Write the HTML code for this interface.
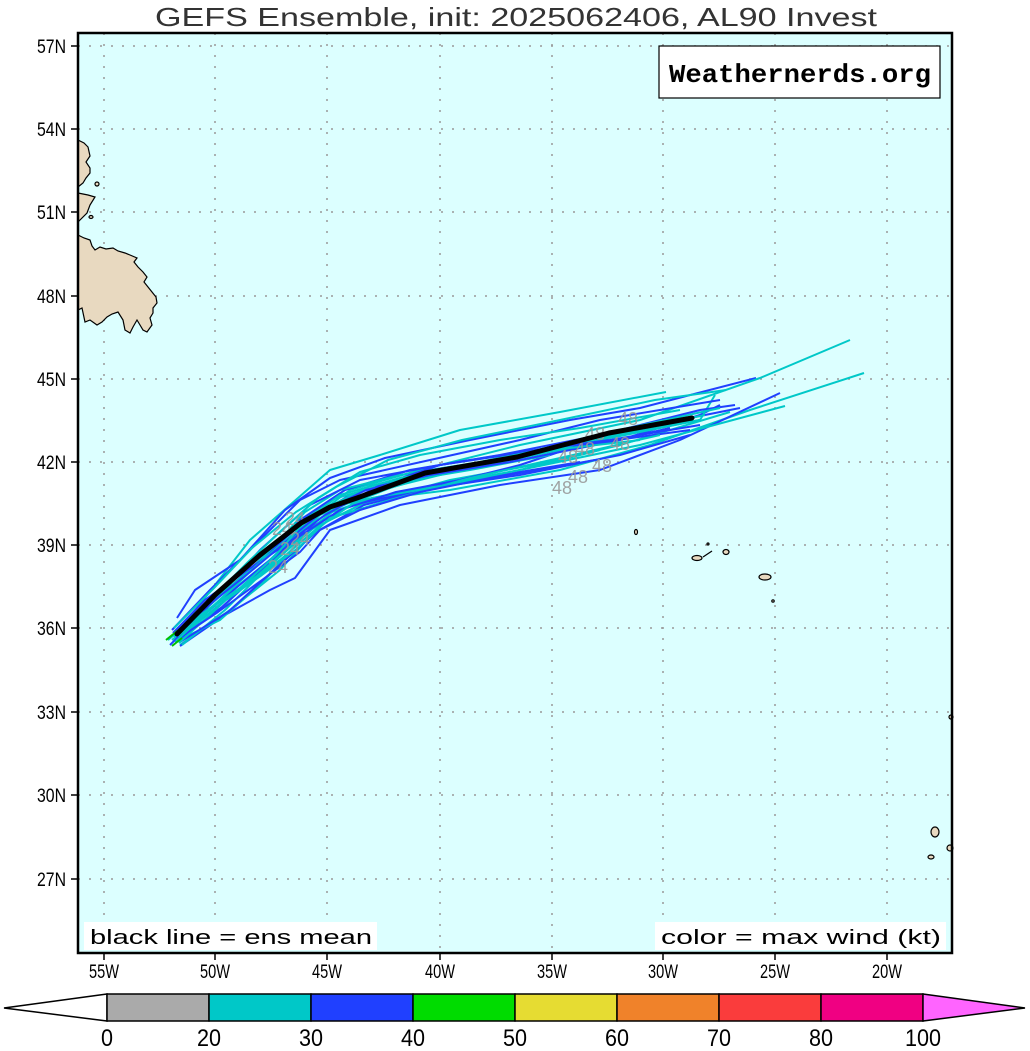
<!DOCTYPE html>
<html><head><meta charset="utf-8"><style>body{margin:0;background:#fff}svg{display:block}</style></head><body>
<svg width="1030" height="1051" viewBox="0 0 1030 1051" xmlns="http://www.w3.org/2000/svg" font-family="Liberation Sans, sans-serif">
<rect width="1030" height="1051" fill="#fff"/>
<text x="516" y="26" font-size="26" text-anchor="middle" textLength="722" lengthAdjust="spacingAndGlyphs" fill="#333">GEFS Ensemble, init: 2025062406, AL90 Invest</text>
<rect x="78" y="33" width="874" height="920" fill="#dcffff"/>
<g stroke="#999" stroke-width="1.5" stroke-dasharray="2,9">
<line x1="104" y1="33" x2="104" y2="953"/><line x1="215" y1="33" x2="215" y2="953"/><line x1="327" y1="33" x2="327" y2="953"/><line x1="440" y1="33" x2="440" y2="953"/><line x1="552" y1="33" x2="552" y2="953"/><line x1="663" y1="33" x2="663" y2="953"/><line x1="775" y1="33" x2="775" y2="953"/><line x1="887" y1="33" x2="887" y2="953"/>
<line x1="78" y1="46" x2="952" y2="46"/><line x1="78" y1="129" x2="952" y2="129"/><line x1="78" y1="212" x2="952" y2="212"/><line x1="78" y1="296" x2="952" y2="296"/><line x1="78" y1="379" x2="952" y2="379"/><line x1="78" y1="462" x2="952" y2="462"/><line x1="78" y1="545" x2="952" y2="545"/><line x1="78" y1="628" x2="952" y2="628"/><line x1="78" y1="712" x2="952" y2="712"/><line x1="78" y1="795" x2="952" y2="795"/><line x1="78" y1="879" x2="952" y2="879"/>
</g>
<g fill="#e8d9c0" stroke="#000" stroke-width="1.2">
<polygon points="78,235 84,238 90,240 92,246 95,250 100,247 106,249 113,248 118,251 125,253 130,255 137,258 134,262 138,267 143,272 147,277 144,282 148,287 152,292 156,297 157,303 153,308 153,313 150,318 152,325 147,332 143,330 140,325 137,320 133,327 130,333 125,330 123,320 118,312 112,314 107,317 102,322 97,325 90,320 85,322 82,308 78,310"/>
<polygon points="78,140 84,143 88,147 90,156 86,162 90,168 90,173 86,178 83,183 78,187"/>
<polygon points="78,193 88,195 95,197 90,205 87,213 80,220 78,222"/>
<ellipse cx="97" cy="184" rx="2" ry="2"/><ellipse cx="91" cy="217" rx="2" ry="1.5"/>
<ellipse cx="636" cy="532" rx="1.5" ry="2.5"/>
<ellipse cx="697" cy="558" rx="5" ry="2.5"/><line x1="703" y1="557" x2="712" y2="551"/><ellipse cx="726" cy="552" rx="3" ry="2.5"/><ellipse cx="708" cy="544" rx="1" ry="1"/>
<ellipse cx="765" cy="577" rx="6" ry="3"/><ellipse cx="773" cy="601" rx="1.2" ry="1.2"/>
<ellipse cx="935" cy="832" rx="4" ry="5"/><ellipse cx="931" cy="857" rx="3" ry="2"/><ellipse cx="950" cy="848" rx="3" ry="3"/><ellipse cx="951" cy="717" rx="2" ry="2"/>
</g>
<g fill="none" stroke-width="2" stroke-linejoin="round">
<polyline stroke="#00c8c8" points="175,636 215,585 250,540 290,505 330,470 380,455 460,430 560,412 666,392"/>
<polyline stroke="#2040ff" points="177,618 195,590 240,560 285,510 330,478 385,458 470,440 570,420 640,408 756,378"/>
<polyline stroke="#00c8c8" points="172,640 220,600 270,560 310,520 350,490 420,470 520,445 640,420 760,378 850,340"/>
<polyline stroke="#00c8c8" points="180,645 230,610 280,570 320,525 370,500 450,490 560,470 650,445 750,410 864,373"/>
<polyline stroke="#2040ff" points="180,646 225,615 270,590 295,578 330,530 400,505 500,485 600,470 680,440 780,393"/>
<polyline stroke="#00c8c8" points="175,642 220,620 265,580 300,540 340,505 420,488 520,470 640,445 785,406"/>
<polyline stroke="#2040ff" points="170,645 215,600 255,565 300,525 350,495 430,470 530,455 620,440 700,415 720,405"/>
<polyline stroke="#00c8c8" points="168,640 210,605 250,570 290,530 330,500 400,480 500,460 600,440 700,420 715,395"/>
<polyline stroke="#2040ff" points="175,636 215,600 260,560 300,520 345,490 410,470 500,455 600,435 700,410 735,405"/>
<polyline stroke="#00c8c8" points="178,640 230,590 275,545 305,512 340,490 400,475 480,462 560,445 700,420"/>
<polyline stroke="#2040ff" points="176,632 220,595 260,550 310,505 360,480 440,465 540,450 640,428 740,408"/>
<polyline stroke="#00c8c8" points="180,638 225,605 270,560 320,515 380,490 460,470 560,450 620,430 720,408"/>
<polyline stroke="#2040ff" points="172,630 210,590 255,545 300,500 340,480 430,460 520,440 600,420 720,400"/>
<polyline stroke="#00c8c8" points="182,645 225,610 265,570 310,530 360,505 450,480 550,462 620,445 730,412"/>
<polyline stroke="#2040ff" points="178,640 222,607 268,565 305,530 352,505 420,490 520,475 620,455 690,435"/>
<polyline stroke="#00c8c8" points="174,628 214,588 252,548 296,512 336,487 388,460 462,440 560,420 655,400 726,390"/>
<polyline stroke="#2040ff" points="180,642 228,612 274,570 316,532 364,505 444,485 540,470 595,460"/>
<polyline stroke="#00c8c8" points="176,634 216,598 262,560 304,528 350,500 430,476 520,458 612,437 700,420"/>
<polyline stroke="#00c8c8" points="177,640 219,605 258,575 297,540 332,512 372,498 448,485 520,470 600,450"/>
<polyline stroke="#2040ff" points="178,637 218,603 260,568 300,536 340,510 396,492 460,480 520,465 580,445 690,430"/>
<polyline stroke="#2040ff" points="173,633 205,600 240,575 285,545 325,515 380,485 440,465 520,452 610,440 700,425"/>
<polyline stroke="#00c8c8" points="179,643 226,600 262,575 298,548 330,518 390,500 470,478 560,458 660,435"/>
<polyline stroke="#2040ff" points="176,640 218,612 262,580 300,552 320,530 360,510 420,492 520,472 580,462"/>
<polyline stroke="#00c8c8" points="170,638 200,615 245,585 280,560 315,530 355,502 410,480 470,470 550,455"/>
<polyline stroke="#00c8c8" points="174,637 212,598 248,562 282,530 318,498 360,472 420,455 500,440 580,428 680,410"/>
<polyline stroke="#00c8c8" points="176,641 214,606 256,566 292,535 326,508 370,486 440,470 530,452 620,433 705,415"/>
<polyline stroke="#2040ff" points="175,635 210,604 250,572 288,540 322,512 366,490 430,475 510,462 600,444 670,428"/>
<polyline stroke="#00c8c8" points="178,636 208,610 240,588 276,555 306,520 340,495 400,478 480,465 570,448 640,440"/>
<polyline stroke="#00c000" points="166,640 176,632 186,625"/>
<polyline stroke="#00c000" points="172,646 182,638"/>
</g>
<g fill="#999" font-size="18" opacity="0.9">
<text x="552" y="494">48</text><text x="568" y="483">48</text><text x="592" y="472">48</text><text x="558" y="463">48</text><text x="575" y="455">48</text><text x="610" y="450">48</text><text x="618" y="425">48</text><text x="585" y="440">48</text>
<text x="268" y="573">24</text><text x="280" y="555">24</text><text x="290" y="545">24</text><text x="272" y="535">24</text><text x="285" y="525">24</text>
</g>
<polyline fill="none" stroke="#000" stroke-width="5" stroke-linecap="round" stroke-linejoin="round" points="177,634 215,595 260,555 301,523 330,507 357,498 425,473 517,457 609,433 692,418"/>
<rect x="659" y="46" width="281" height="52" fill="#fff" stroke="#000" stroke-width="1.2"/>
<text x="669" y="82" font-family="Liberation Mono, monospace" font-weight="bold" font-size="26" textLength="262" lengthAdjust="spacingAndGlyphs">Weathernerds.org</text>
<rect x="84" y="922" width="293" height="28" fill="#fff"/>
<text x="90" y="944" font-size="20" textLength="282" lengthAdjust="spacingAndGlyphs">black line = ens mean</text>
<rect x="655" y="922" width="291" height="28" fill="#fff"/>
<text x="661" y="944" font-size="20" textLength="280" lengthAdjust="spacingAndGlyphs">color = max wind (kt)</text>
<rect x="78" y="33" width="874" height="920" fill="none" stroke="#000" stroke-width="2.5"/>
<g stroke="#000" stroke-width="1.5">
<line x1="71" y1="46" x2="78" y2="46"/><line x1="71" y1="129" x2="78" y2="129"/><line x1="71" y1="212" x2="78" y2="212"/><line x1="71" y1="296" x2="78" y2="296"/><line x1="71" y1="379" x2="78" y2="379"/><line x1="71" y1="462" x2="78" y2="462"/><line x1="71" y1="545" x2="78" y2="545"/><line x1="71" y1="628" x2="78" y2="628"/><line x1="71" y1="712" x2="78" y2="712"/><line x1="71" y1="795" x2="78" y2="795"/><line x1="71" y1="879" x2="78" y2="879"/>
<line x1="104" y1="953" x2="104" y2="960"/><line x1="215" y1="953" x2="215" y2="960"/><line x1="327" y1="953" x2="327" y2="960"/><line x1="440" y1="953" x2="440" y2="960"/><line x1="552" y1="953" x2="552" y2="960"/><line x1="663" y1="953" x2="663" y2="960"/><line x1="775" y1="953" x2="775" y2="960"/><line x1="887" y1="953" x2="887" y2="960"/>
</g>
<g font-size="19" fill="#000">
<text x="37" y="53" textLength="29" lengthAdjust="spacingAndGlyphs">57N</text><text x="37" y="136" textLength="29" lengthAdjust="spacingAndGlyphs">54N</text><text x="37" y="219" textLength="29" lengthAdjust="spacingAndGlyphs">51N</text><text x="37" y="303" textLength="29" lengthAdjust="spacingAndGlyphs">48N</text><text x="37" y="386" textLength="29" lengthAdjust="spacingAndGlyphs">45N</text><text x="37" y="469" textLength="29" lengthAdjust="spacingAndGlyphs">42N</text><text x="37" y="552" textLength="29" lengthAdjust="spacingAndGlyphs">39N</text><text x="37" y="635" textLength="29" lengthAdjust="spacingAndGlyphs">36N</text><text x="37" y="719" textLength="29" lengthAdjust="spacingAndGlyphs">33N</text><text x="37" y="802" textLength="29" lengthAdjust="spacingAndGlyphs">30N</text><text x="37" y="886" textLength="29" lengthAdjust="spacingAndGlyphs">27N</text>
</g>
<g font-size="19" fill="#000">
<text x="89" y="978" textLength="30" lengthAdjust="spacingAndGlyphs">55W</text><text x="200" y="978" textLength="30" lengthAdjust="spacingAndGlyphs">50W</text><text x="312" y="978" textLength="30" lengthAdjust="spacingAndGlyphs">45W</text><text x="425" y="978" textLength="30" lengthAdjust="spacingAndGlyphs">40W</text><text x="537" y="978" textLength="30" lengthAdjust="spacingAndGlyphs">35W</text><text x="648" y="978" textLength="30" lengthAdjust="spacingAndGlyphs">30W</text><text x="760" y="978" textLength="30" lengthAdjust="spacingAndGlyphs">25W</text><text x="872" y="978" textLength="30" lengthAdjust="spacingAndGlyphs">20W</text>
</g>
<g stroke="#000" stroke-width="1.5">
<polygon points="4,1008 107,994 107,1021" fill="#fff"/>
<rect x="107" y="994" width="102" height="27" fill="#aaaaaa"/>
<rect x="209" y="994" width="102" height="27" fill="#00c8c8"/>
<rect x="311" y="994" width="102" height="27" fill="#2040ff"/>
<rect x="413" y="994" width="102" height="27" fill="#00dc00"/>
<rect x="515" y="994" width="102" height="27" fill="#e6dc32"/>
<rect x="617" y="994" width="102" height="27" fill="#f0822a"/>
<rect x="719" y="994" width="102" height="27" fill="#fa3c3c"/>
<rect x="821" y="994" width="102" height="27" fill="#f00082"/>
<polygon points="923,994 1025,1008 923,1021" fill="#ff64ff"/>
</g>
<g font-size="24" fill="#000">
<text x="101" y="1046" textLength="12" lengthAdjust="spacingAndGlyphs">0</text><text x="197" y="1046" textLength="24" lengthAdjust="spacingAndGlyphs">20</text><text x="299" y="1046" textLength="24" lengthAdjust="spacingAndGlyphs">30</text><text x="401" y="1046" textLength="24" lengthAdjust="spacingAndGlyphs">40</text><text x="503" y="1046" textLength="24" lengthAdjust="spacingAndGlyphs">50</text><text x="605" y="1046" textLength="24" lengthAdjust="spacingAndGlyphs">60</text><text x="707" y="1046" textLength="24" lengthAdjust="spacingAndGlyphs">70</text><text x="809" y="1046" textLength="24" lengthAdjust="spacingAndGlyphs">80</text><text x="905" y="1046" textLength="36" lengthAdjust="spacingAndGlyphs">100</text>
</g>
</svg>
</body></html>
